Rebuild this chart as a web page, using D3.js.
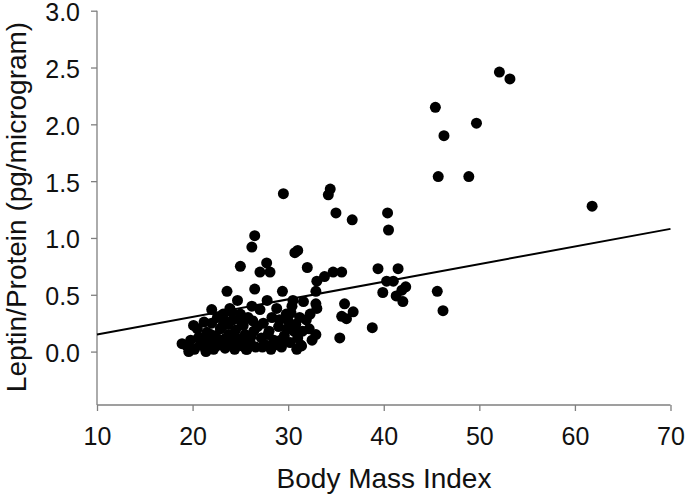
<!DOCTYPE html>
<html><head><meta charset="utf-8">
<script src="https://cdn.jsdelivr.net/npm/d3@7"></script>
<style>body{margin:0;background:#fff;} text{font-family:"Liberation Sans",Arial,sans-serif;}</style>
</head><body><svg id="c" width="685" height="497"></svg>
<script>
const bmi = [18.9,19.4,19.8,20.2,20.1,20.5,20.8,21.0,21.3,21.5,21.8,22.0,22.0,22.2,22.4,22.6,22.8,22.9,
 23.0,23.2,23.4,23.6,23.7,23.8,23.9,24.0,24.2,24.4,24.5,24.7,24.8,25.0,25.0,25.2,25.3,25.5,25.7,25.8,26.0,26.2,26.2,26.4,26.5,26.5,26.6,
 27.05,27.05,27.2,27.4,27.6,27.75,27.8,28.0,28.1,28.3,28.5,28.8,29.0,29.3,29.4,29.5,29.6,29.8,30.0,
 30.2,30.4,30.5,30.6,30.7,31.0,31.0,31.2,31.4,31.6,31.9,32.0,32.2,32.5,32.9,32.9,32.9,33.0,33.0,33.8,34.2,34.4,34.7,35.0,35.4,35.6,35.6,35.9,36.1,36.7,36.8,38.8,39.4,39.9,40.3,40.4,40.5,41.0,41.3,41.5,41.9,42.0,42.3,45.6,46.2,
 45.4,45.7,46.3,48.9,49.7,52.1,53.2,61.8,
 19.6,20.6,21.2,21.9,22.5,23.1,23.5,24.1,24.6,25.1,25.6,26.1,26.8,27.3,27.9,28.6,29.2,29.9,30.3,30.9,31.5,21.4,22.7,23.3,24.3,25.4,26.3,28.2,29.1,30.8,31.3,32.3];
const leptin = [0.07,0.05,0.10,0.02,0.23,0.20,0.06,0.12,0.03,0.17,0.08,0.37,0.25,0.02,0.14,0.30,0.06,0.20,
 0.10,0.33,0.03,0.53,0.24,0.15,0.38,0.07,0.28,0.02,0.19,0.45,0.11,0.75,0.33,0.05,0.23,0.15,0.02,0.30,0.09,0.92,0.40,0.18,1.02,0.55,0.04,
 0.70,0.37,0.12,0.25,0.06,0.78,0.45,0.18,0.70,0.30,0.10,0.38,0.22,0.04,0.53,1.39,0.14,0.33,0.27,
 0.08,0.40,0.45,0.18,0.87,0.89,0.12,0.30,0.05,0.44,0.28,0.74,0.20,0.10,0.53,0.42,0.15,0.62,0.38,0.66,1.38,1.43,0.70,1.22,0.12,0.70,0.31,0.42,0.29,1.16,0.35,0.21,0.73,0.52,0.62,1.22,1.07,0.62,0.49,0.73,0.54,0.44,0.57,0.53,0.36,
 2.15,1.54,1.90,1.54,2.01,2.46,2.40,1.28,
 0.00,0.12,0.26,0.15,0.05,0.22,0.12,0.35,0.09,0.26,0.02,0.13,0.22,0.04,0.15,0.06,0.10,0.20,0.34,0.02,0.18,0.00,0.09,0.28,0.14,0.08,0.27,0.02,0.28,0.24,0.06,0.33];
const xTicks = [10,20,30,40,50,60,70];
const yTicks = [0,0.5,1.0,1.5,2.0,2.5,3.0];
const fitX = [10,70];
const fitY = [0.15,1.08];

const svg = d3.select("#c");
const x = d3.scaleLinear().domain([10,70]).range([97,670.5]);
const y = d3.scaleLinear().domain([-0.47,3.0]).range([405,10.7]);
const axisColor = "#7f7f7f";

const gx = svg.append("g").attr("transform","translate(0,405)")
  .call(d3.axisBottom(x).tickValues(xTicks).tickSize(6).tickPadding(16).tickFormat(d3.format("d")));
const gy = svg.append("g").attr("transform","translate(97,0)")
  .call(d3.axisLeft(y).tickValues(yTicks).tickSize(6).tickPadding(11).tickFormat(d3.format(".1f")));
[gx,gy].forEach(g=>{
  g.select(".domain").attr("stroke",axisColor).attr("stroke-width",1.3);
  g.selectAll(".tick line").attr("stroke",axisColor).attr("stroke-width",1.3);
  g.selectAll(".tick text").attr("fill","#111").style("font-size","25px").style("font-family","Liberation Sans, Arial, sans-serif");
});
gy.selectAll(".tick text").attr("dy","0.4em");
gy.select(".domain").attr("d",`M0,${y(3.0)}V405`);
gx.select(".domain").attr("d",`M${x(10)},0H${x(70)}`);

svg.append("g").selectAll("circle").data(bmi.map((b,i)=>[b,leptin[i]])).join("circle")
  .attr("cx",d=>x(d[0])).attr("cy",d=>y(d[1])).attr("r",5.5).attr("fill","#000");

svg.append("line").attr("x1",x(fitX[0])).attr("y1",y(fitY[0])).attr("x2",x(fitX[1])).attr("y2",y(fitY[1]))
  .attr("stroke","#000").attr("stroke-width",2);

svg.append("text").attr("x",384).attr("y",488).attr("text-anchor","middle")
  .style("font-size","28px").attr("fill","#111").text("Body Mass Index");
svg.append("text").attr("transform","translate(26,207) rotate(-90)").attr("text-anchor","middle")
  .style("font-size","28px").attr("fill","#111").text("Leptin/Protein (pg/microgram)");
</script></body></html>
